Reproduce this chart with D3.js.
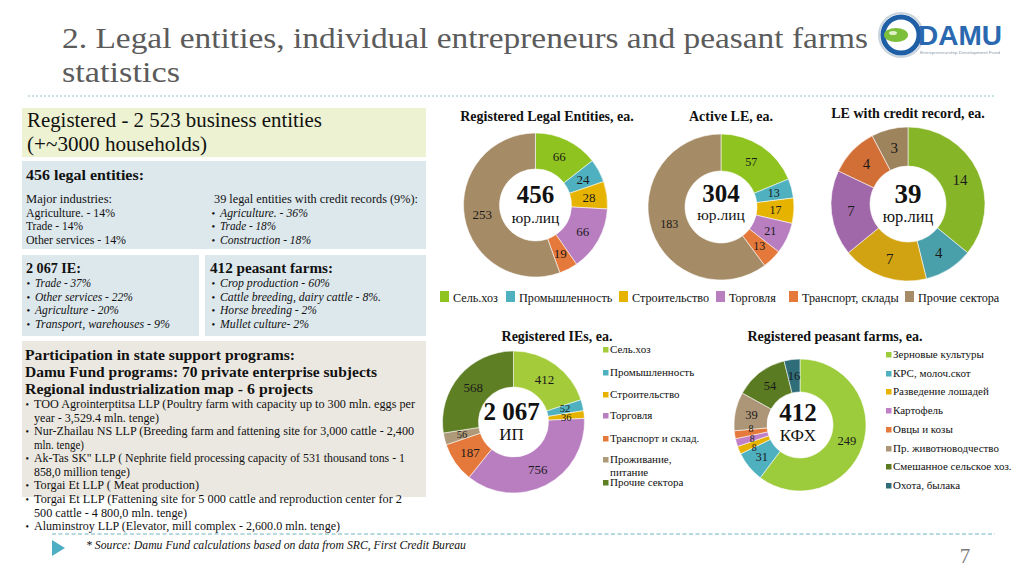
<!DOCTYPE html>
<html><head><meta charset="utf-8">
<script src="https://cdn.jsdelivr.net/npm/d3@7"></script>
<style>
html,body{margin:0;padding:0;background:#fff;}
svg{display:block;}
</style></head>
<body>
<svg id="c" width="1024" height="576" font-family="'Liberation Serif','Times New Roman',Times,'DejaVu Serif',serif"></svg>
<script>
// ---------- DATA ----------
const legalCats = ["Сель.хоз","Промышленность","Строительство","Торговля","Транспорт, склады","Прочие сектора"];
const registeredLE = [66,24,28,66,19,253];
const activeLE = [57,13,17,21,13,183];
const creditLE = [14,4,7,7,4,3];
const ieCats = ["Сель.хоз","Промышленность","Строительство","Торговля","Транспорт и склад.","Проживание, питание","Прочие сектора"];
const ieValues = [412,52,36,756,187,56,568];
const farmCats = ["Зерновые культуры","КРС, молоч.скот","Разведение лошадей","Картофель","Овцы и козы","Пр. животноводчество","Смешанное сельское хоз.","Охота, былака"];
const farmValues = [249,31,8,8,8,39,54,16];
const centerTotals = ["456","304","39","2 067","412"];
const centerUnits = ["юр.лиц","юр.лиц","юр.лиц","ИП","КФХ"];
const chartTitles = ["Registered Legal Entities, ea.","Active LE, ea.","LE with credit record, ea.","Registered IEs, ea.","Registered peasant farms, ea."];

// ---------- COLOURS ----------
const legalColors = ["#8fc31f","#4fb1bf","#e6b300","#b87ec0","#e5793b","#a68c66"];
const creditColors = ["#86b528","#4aa0aa","#d1a312","#a067a9","#d16f37","#9e845d"];
const ieColors = ["#a4cb3a","#4fb1bf","#e6b300","#b87ec0","#e5793b","#ae9a78","#5f7f24"];
const farmColors = ["#9ccb3b","#4fb1bf","#e6b300","#c080c8","#e5793b","#ad9677","#5b7b22","#2f6e78"];

const SERIF = "'Liberation Serif','Times New Roman',Times,'DejaVu Serif',serif";
const SANS = "'Liberation Sans',Arial,sans-serif";
const svg = d3.select("#c");

// ---------- HEADER ----------
svg.append("text").attr("x",62).attr("y",48).attr("font-size",30).attr("fill","#5b5b5b")
  .attr("font-family",SERIF)
  .attr("textLength",806).attr("lengthAdjust","spacingAndGlyphs")
  .text("2. Legal entities, individual entrepreneurs and peasant farms");
svg.append("text").attr("x",62).attr("y",82).attr("font-size",30).attr("fill","#5b5b5b")
  .attr("font-family",SERIF)
  .attr("textLength",118).attr("lengthAdjust","spacingAndGlyphs").text("statistics");
svg.append("line").attr("x1",28).attr("x2",995).attr("y1",96).attr("y2",96)
  .attr("stroke","#8cc4cc").attr("stroke-width",1).attr("stroke-dasharray","2,2");

// logo
const logo = svg.append("g");
logo.append("circle").attr("cx",901).attr("cy",35).attr("r",22).attr("fill","#fff").attr("stroke","#c9d3dc").attr("stroke-width",2);
logo.append("circle").attr("cx",901).attr("cy",35).attr("r",18).attr("fill","#fff").attr("stroke","#1f5fa6").attr("stroke-width",5);
logo.append("ellipse").attr("cx",896).attr("cy",35).attr("rx",12).attr("ry",7).attr("fill","#7cbf3a");
logo.append("ellipse").attr("cx",893).attr("cy",33).attr("rx",4).attr("ry",2).attr("fill","#dff0c8");
logo.append("text").attr("x",918).attr("y",45).attr("font-size",27).attr("font-weight","bold")
  .attr("font-family",SANS).attr("fill","#2a69b0")
  .attr("textLength",84).attr("lengthAdjust","spacingAndGlyphs").text("DAMU");
logo.append("text").attr("x",920).attr("y",54).attr("font-size",3.5).attr("fill","#8a9aaa")
  .attr("font-family",SANS)
  .attr("textLength",80).attr("lengthAdjust","spacingAndGlyphs").text("Entrepreneurship Development Fund");

// ---------- LEFT PANELS ----------
function rect(x,y,w,h,fill){svg.append("rect").attr("x",x).attr("y",y).attr("width",w).attr("height",h).attr("fill",fill);}
function txt(x,y,s,size,opts){
  opts=opts||{};
  const t=svg.append("text").attr("x",x).attr("y",y).attr("font-size",size).attr("font-family",SERIF)
    .attr("fill",opts.fill||"#111").text(s);
  if(opts.bold) t.attr("font-weight","bold");
  if(opts.italic) t.attr("font-style","italic");
  if(opts.anchor) t.attr("text-anchor",opts.anchor);
  if(opts.len) t.attr("textLength",opts.len).attr("lengthAdjust","spacingAndGlyphs");
  return t;
}
function bullet(x,y,s,size,italic,len){
  txt(x,y,"•",size*0.85);
  txt(x+8.5,y,s,size,{italic:italic,len:len});
}

rect(22,108,404,49,"#edf2d2");
txt(27,127,"Registered - 2 523 business entities",20.5,{len:295});
txt(27,151,"(+~3000 households)",20.5,{len:180});

rect(22,161,404,88,"#dde8ed");
txt(26,180,"456 legal entities:",15,{bold:true,len:118});
txt(26,203,"Major industries:",12.5,{len:86});
txt(26,216.5,"Agriculture. - 14%",12.5,{len:89});
txt(26,230,"Trade - 14%",12.5,{len:57});
txt(26,243.5,"Other services - 14%",12.5,{len:100});
txt(214,203,"39 legal entities with credit records (9%):",12.5,{len:204});
bullet(211.5,216.5,"Agriculture. - 36%",12.5,true,88);
bullet(211.5,230,"Trade - 18%",12.5,true,56);
bullet(211.5,243.5,"Construction - 18%",12.5,true,91);

rect(22,255,177,81,"#dde8ed");
txt(26,273,"2 067 IE:",15,{bold:true,len:55});
bullet(26.5,287,"Trade - 37%",12.5,true,56);
bullet(26.5,300.5,"Other services - 22%",12.5,true,98);
bullet(26.5,314,"Agriculture - 20%",12.5,true,84);
bullet(26.5,327.5,"Transport, warehouses - 9%",12.5,true,135);

rect(205,255,221,81,"#dde8ed");
txt(210,273,"412 peasant farms:",15,{bold:true,len:123});
bullet(211.5,287,"Crop production - 60%",12.5,true,110);
bullet(211.5,300.5,"Cattle breeding, dairy cattle - 8%.",12.5,true,161);
bullet(211.5,314,"Horse breeding - 2%",12.5,true,97);
bullet(211.5,327.5,"Mullet culture- 2%",12.5,true,89);

rect(22,341,404,156,"#ebe8e1");
txt(25,360,"Participation in state support programs:",14.5,{bold:true,len:270});
txt(25,377,"Damu Fund programs: 70 private enterprise subjects",14.5,{bold:true,len:352});
txt(25,394,"Regional industrialization map - 6 projects",14.5,{bold:true,len:288});
const progLines = [
  ["TOO Agrointerptitsa LLP (Poultry farm with capacity up to 300 mln. eggs per",408,true,381],
  ["year - 3,529.4 mln. tenge)",421.5,false,125],
  ["Nur-Zhailau NS LLP (Breeding farm and fattening site for 3,000 cattle - 2,400",435,true,380],
  ["mln. tenge)",448.5,false,50],
  ["Ak-Tas SK\" LLP ( Nephrite field processing capacity of 531 thousand tons - 1",462,true,371],
  ["858,0 million tenge)",475.5,false,96],
  ["Torgai Et LLP ( Meat production)",489,true,165],
  ["Torgai Et LLP (Fattening site for 5 000 cattle and reproduction center for 2",503,true,368],
  ["500 cattle - 4 800,0 mln. tenge)",516.5,false,153],
  ["Aluminstroy LLP (Elevator, mill complex - 2,600.0 mln. tenge)",530,true,306]
];
progLines.forEach(l=>{
  if(l[2]) txt(25.5,l[1],"•",10);
  txt(34,l[1],l[0],12.5,{len:l[3]});
});

// footer
svg.append("line").attr("x1",52).attr("x2",995).attr("y1",534).attr("y2",534)
  .attr("stroke","#6fb3c2").attr("stroke-width",1).attr("stroke-dasharray","4,2.5");
svg.append("path").attr("d","M52,540 L65,548 L52,556 Z").attr("fill","#4eaec4");
txt(86,549,"* Source: Damu Fund calculations based on data from SRC, First Credit Bureau",11.5,{italic:true,len:380});
txt(965,563,"7",21,{fill:"#7a7a7a",anchor:"middle"});

// ---------- DONUTS ----------
const pie = d3.pie().sort(null).value(d=>d);
function donut(cfg){
  const g = svg.append("g").attr("transform",`translate(${cfg.cx},${cfg.cy})`).attr("font-family",SERIF);
  const arc = d3.arc().innerRadius(cfg.ri).outerRadius(cfg.ro);
  const arcs = pie(cfg.values);
  const total = d3.sum(cfg.values);
  g.selectAll("path").data(arcs).join("path")
    .attr("d",arc).attr("fill",(d,i)=>cfg.colors[i])
    .attr("stroke","#ffffff").attr("stroke-width",0.7).attr("stroke-opacity",0.8);
  // label positions from arc centroids; tiny adjacent slices are spread apart vertically
  const labels = arcs.map(d=>{
    const c = arc.centroid(d);
    const small = d.data/total < 0.03;
    return {v:d.data, x:c[0], y:c[1], small:small, size: small ? cfg.lsize-2.5 : cfg.lsize};
  });
  for(let it=0; it<20; it++){
    for(let i=1;i<labels.length;i++){
      const a=labels[i-1], b=labels[i];
      if(!(a.small && b.small)) continue;
      const gap = 9.5, dy = b.y - a.y, sign = dy>=0?1:-1;
      if(Math.abs(dy) < gap){
        const push = (gap-Math.abs(dy))/2;
        a.y -= sign*push; b.y += sign*push;
      }
    }
  }
  g.selectAll("text.lbl").data(labels).join("text").attr("class","lbl")
    .attr("x",d=>d.x).attr("y",d=>d.y)
    .attr("text-anchor","middle").attr("dy","0.35em")
    .attr("font-size",d=>d.size).attr("fill","#1a1a1a")
    .text(d=>d.v);
  g.append("text").attr("x",cfg.tx||0).attr("y",cfg.by).attr("text-anchor","middle")
    .attr("font-size",cfg.bsize).attr("font-weight","bold").attr("fill","#111").text(cfg.big);
  g.append("text").attr("x",cfg.tx||0).attr("y",cfg.sy).attr("text-anchor","middle")
    .attr("font-size",cfg.ssize).attr("fill","#111").text(cfg.small);
  svg.append("text").attr("x",cfg.titleX).attr("y",cfg.titleY).attr("text-anchor","middle")
    .attr("font-family",SERIF)
    .attr("font-size",14).attr("font-weight","bold").attr("fill","#111").text(cfg.title);
}

donut({cx:535.5,cy:205,ro:72,ri:36,values:registeredLE,colors:legalColors,lsize:13,
  big:centerTotals[0],small:centerUnits[0],by:-2,sy:17.5,bsize:25,ssize:15.5,
  title:chartTitles[0],titleX:547,titleY:121});
donut({cx:721,cy:207,ro:73,ri:36,values:activeLE,colors:legalColors,lsize:12,
  big:centerTotals[1],small:centerUnits[1],by:-5,sy:13,bsize:25,ssize:15.5,
  title:chartTitles[1],titleX:731,titleY:121});
donut({cx:908,cy:204,ro:77,ri:38,values:creditLE,colors:creditColors,lsize:15,
  big:centerTotals[2],small:centerUnits[2],by:-1,sy:18,bsize:27,ssize:16.5,
  title:chartTitles[2],titleX:908,titleY:118});
donut({cx:513.5,cy:422,ro:71,ri:35,values:ieValues,colors:ieColors,lsize:13,
  big:centerTotals[3],small:centerUnits[3],by:-2,sy:17.5,tx:-2,bsize:25,ssize:17,
  title:chartTitles[3],titleX:557,titleY:341});
donut({cx:800,cy:425,ro:66,ri:33,values:farmValues,colors:farmColors,lsize:12.5,
  big:centerTotals[4],small:centerUnits[4],by:-4,sy:15.5,tx:-2,bsize:25,ssize:17,
  title:chartTitles[4],titleX:835,titleY:341});

// ---------- LEGENDS ----------
const legX = [440,506,619,716,789,905];
legalCats.forEach((c,i)=>{
  svg.append("rect").attr("x",legX[i]).attr("y",291).attr("width",9).attr("height",11).attr("fill",legalColors[i]);
  svg.append("text").attr("x",legX[i]+13).attr("y",301.5).attr("font-family",SERIF)
    .attr("font-size",12.2).attr("fill","#111").text(c);
});

const ieLegY = [[353],[376],[398],[419],[442],[463,475.5],[486]];
ieCats.forEach((c,i)=>{
  const ys = ieLegY[i];
  svg.append("rect").attr("x",603).attr("y",ys[0]-6).attr("width",5.5).attr("height",5.5).attr("fill",ieColors[i]);
  const parts = ys.length>1 ? c.split(" ") : [c];
  parts.forEach((p,k)=>svg.append("text").attr("x",610).attr("y",ys[k]).attr("font-family",SERIF)
    .attr("font-size",11).attr("fill","#111").text(p));
});

const farmLegY = [358,377,395,414,433,452,470,489];
farmCats.forEach((c,i)=>{
  svg.append("rect").attr("x",886).attr("y",farmLegY[i]-6).attr("width",5.5).attr("height",5.5).attr("fill",farmColors[i]);
  svg.append("text").attr("x",893).attr("y",farmLegY[i]).attr("font-family",SERIF)
    .attr("font-size",11).attr("fill","#111").text(c);
});
</script>
</body></html>
